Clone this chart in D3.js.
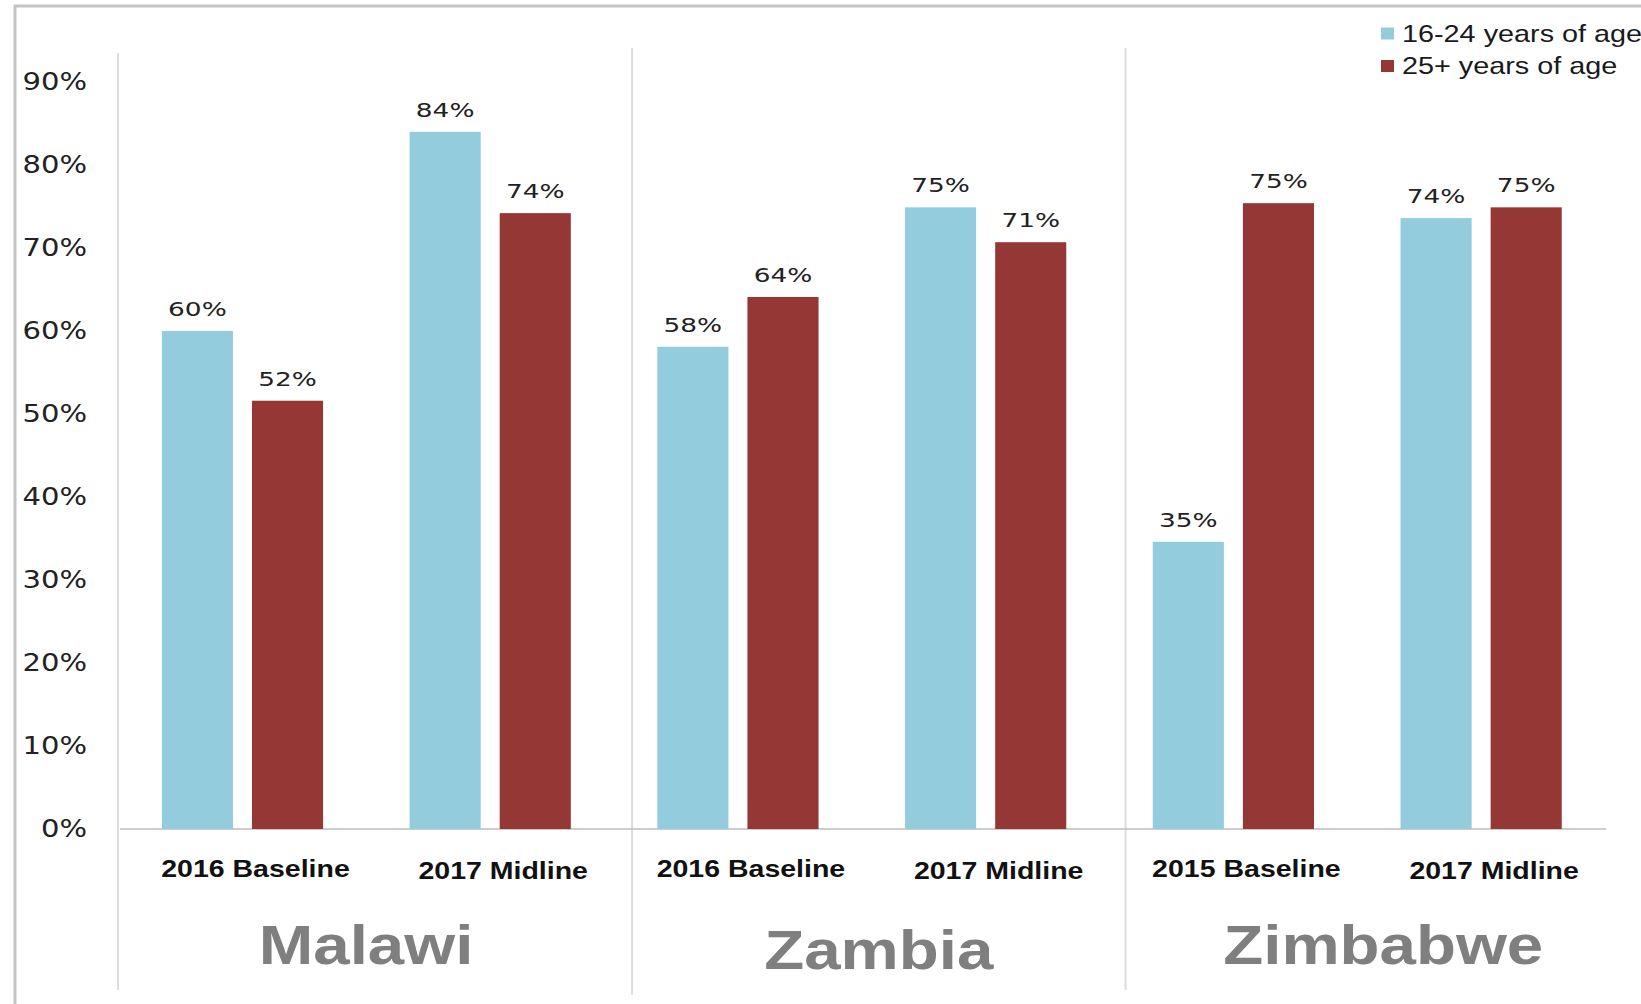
<!DOCTYPE html>
<html><head><meta charset="utf-8">
<script src="https://cdn.jsdelivr.net/npm/d3@7"></script>
<style>body{margin:0;background:#fff}svg{display:block}</style>
</head><body>
<svg id="chart" width="1641" height="1004"></svg>
<script>
// ---- data ----
const countries = ["Malawi", "Zambia", "Zimbabwe"];
const rounds = [["2016 Baseline", "2017 Midline"], ["2016 Baseline", "2017 Midline"], ["2015 Baseline", "2017 Midline"]];
const seriesNames = ["16-24 years of age", "25+ years of age"];
const youth = [60.0, 84.0, 58.1, 74.9, 34.6, 73.6];   // 16-24
const adult = [51.6, 74.2, 64.1, 70.7, 75.4, 74.9];   // 25+
const yTickValues = [0, 10, 20, 30, 40, 50, 60, 70, 80, 90];
const colors = ["#93cddd", "#953735"];

// ---- build table ----
const rows = [];
countries.forEach((c, ci) => rounds[ci].forEach((r, ri) => {
  const i = ci * 2 + ri;
  rows.push({ key: c + "|" + r, country: c, round: r, vals: [youth[i], adult[i]] });
}));

const svg = d3.select("#chart");
svg.append("rect").attr("width", 1641).attr("height", 1004).attr("fill", "#fff");

// frame
svg.append("path").attr("d", "M15,1004V6H1641").attr("fill", "none")
  .attr("stroke", "#c4c4c4").attr("stroke-width", 3);

const x0 = d3.scaleBand().domain(rows.map(d => d.key)).range([118.6, 1605]).padding(0);
const x1 = d3.scaleBand().domain([0, 1]).range([0, x0.bandwidth()])
  .paddingInner(0.211).paddingOuter(0.48);
const y = d3.scaleLinear().domain([0, 90]).range([829, 82]);

// separators
const sepX = [118, x0(rows[2].key) + 18, x0(rows[4].key) + 16];
svg.selectAll("line.sep").data(sepX).join("line").attr("class", "sep")
  .attr("x1", d => d).attr("x2", d => d)
  .attr("y1", (d, i) => i === 0 ? 53 : 48).attr("y2", (d, i) => i === 1 ? 995 : 990)
  .attr("stroke", "#dcdcdc").attr("stroke-width", 2);

// y axis labels
const yAxis = d3.axisLeft(y).tickValues(yTickValues).tickFormat(d => d + "%").tickSize(0).tickPadding(0);
const ga = svg.append("g").attr("transform", "translate(87,0)").call(yAxis);
ga.select(".domain").remove();
ga.selectAll("text").attr("font-family", "DejaVu Sans").attr("font-size", 24)
  .attr("fill", "#222").attr("transform", "scale(1.21,1)");

// baseline
svg.append("line").attr("x1", 120).attr("x2", 1606).attr("y1", y(0)).attr("y2", y(0))
  .attr("stroke", "#bdbdbd").attr("stroke-width", 1.5);

// bars
const groups = svg.selectAll("g.grp").data(rows).join("g").attr("class", "grp")
  .attr("transform", d => `translate(${x0(d.key)},0)`);
groups.selectAll("rect").data(d => d.vals.map((v, s) => ({ v, s }))).join("rect")
  .attr("x", d => x1(d.s)).attr("width", x1.bandwidth())
  .attr("y", d => y(d.v)).attr("height", d => y(0) - y(d.v))
  .attr("fill", d => colors[d.s]);
groups.selectAll("text.val").data(d => d.vals.map((v, s) => ({ v, s }))).join("text")
  .attr("class", "val")
  .attr("transform", d => `translate(${x1(d.s) + x1.bandwidth() / 2},${y(d.v) - 15}) scale(1.32,1)`)
  .attr("text-anchor", "middle").attr("font-family", "DejaVu Sans").attr("font-size", 20)
  .attr("fill", "#222").text(d => Math.round(d.v) + "%");

// category labels
svg.selectAll("text.cat").data(rows).join("text").attr("class", "cat")
  .attr("transform", (d, i) => `translate(${x0(d.key) + x0.bandwidth() / 2 + 13},${i % 2 ? 871 : 869}) scale(1.24,1)`)
  .attr("text-anchor", "middle").attr("dominant-baseline", "central")
  .attr("font-family", "Liberation Sans, Arial, sans-serif").attr("font-weight", "bold")
  .attr("font-size", 23).attr("fill", "#111").text(d => d.round);

// country labels
const sepEnd = [100, sepX[1], sepX[2], 1641];
svg.selectAll("text.country").data(countries).join("text").attr("class", "country")
  .attr("transform", (d, i) => `translate(${(sepEnd[i] + sepEnd[i + 1]) / 2},${i === 1 ? 950 : 945}) scale(1.19,1)`)
  .attr("text-anchor", "middle").attr("dominant-baseline", "central")
  .attr("font-family", "Liberation Sans, Arial, sans-serif").attr("font-weight", "bold")
  .attr("font-size", 55).attr("fill", "#7f7f7f").text(d => d);

// legend
const lg = svg.selectAll("g.leg").data(seriesNames).join("g").attr("class", "leg")
  .attr("transform", (d, i) => `translate(1381,${33.5 + i * 32.5})`);
lg.append("rect").attr("x", 0).attr("y", -6).attr("width", 13).attr("height", 12)
  .attr("fill", (d, i) => colors[i]);
lg.append("text").attr("transform", "translate(21,0) scale(1.2,1)")
  .attr("dominant-baseline", "central")
  .attr("font-family", "Liberation Sans, Arial, sans-serif").attr("font-size", 24)
  .attr("fill", "#1a1a1a").text(d => d);
</script>
</body></html>
